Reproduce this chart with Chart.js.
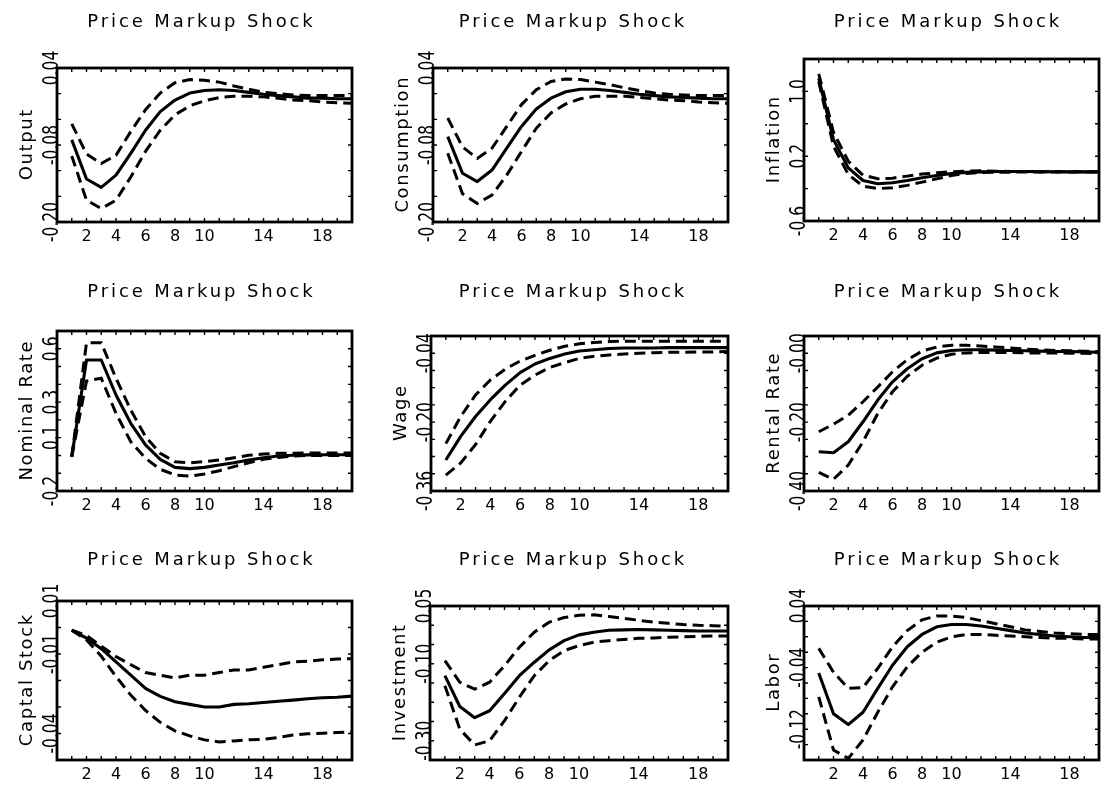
<!DOCTYPE html>
<html>
<head>
<meta charset="utf-8">
<title>Price Markup Shock</title>
<script src="https://cdn.jsdelivr.net/npm/chart.js@4/dist/chart.umd.min.js"></script>
<style>
  body { margin: 0; background: #fff; }
  #wrap { position: relative; width: 1102px; height: 787px; overflow: hidden; }
  #wrap canvas { position: absolute; }
</style>
</head>
<body>
<div id="wrap"></div>
<script>
// ---------------- data ----------------
var periods = [1, 2, 3, 4, 5, 6, 7, 8, 9, 10, 11, 12, 13, 14, 15, 16, 17, 18, 19, 20];
var xTickLabels = [2, 4, 6, 8, 10, 14, 18];
var shockTitle = "Price Markup Shock";

var outputMid = [-0.072, -0.133, -0.146, -0.127, -0.093, -0.057, -0.028, -0.010, 0.001, 0.005, 0.006, 0.005, 0.002, -0.001, -0.003, -0.005, -0.007, -0.007, -0.008, -0.008];
var outputHi  = [-0.047, -0.094, -0.109, -0.096, -0.059, -0.025, 0.001, 0.017, 0.022, 0.021, 0.018, 0.012, 0.007, 0.002, 0.000, -0.002, -0.003, -0.003, -0.003, -0.003];
var outputLo  = [-0.097, -0.166, -0.179, -0.166, -0.130, -0.090, -0.057, -0.033, -0.019, -0.011, -0.006, -0.004, -0.004, -0.005, -0.007, -0.010, -0.011, -0.013, -0.014, -0.015];
var outputTicks = [-0.20, -0.08, 0.04];
var outputTickText = ["-0.20", "-0.08", "0.04"];

var consMid = [-0.067, -0.124, -0.137, -0.119, -0.085, -0.051, -0.024, -0.007, 0.003, 0.007, 0.007, 0.005, 0.002, -0.001, -0.003, -0.005, -0.006, -0.007, -0.008, -0.008];
var consHi  = [-0.038, -0.083, -0.101, -0.085, -0.051, -0.017, 0.006, 0.019, 0.023, 0.022, 0.018, 0.014, 0.009, 0.005, 0.001, -0.001, -0.002, -0.003, -0.003, -0.003];
var consLo  = [-0.093, -0.156, -0.171, -0.158, -0.127, -0.090, -0.054, -0.030, -0.016, -0.008, -0.004, -0.004, -0.004, -0.006, -0.008, -0.010, -0.011, -0.013, -0.014, -0.015];
var consTicks = [-0.20, -0.08, 0.04];
var consTickText = ["-0.20", "-0.08", "0.04"];

var inflMid = [1.16, 0.405, 0.056, -0.100, -0.140, -0.128, -0.100, -0.067, -0.038, -0.013, 0.000, 0.007, 0.011, 0.011, 0.011, 0.009, 0.008, 0.007, 0.007, 0.007];
var inflHi  = [1.217, 0.495, 0.138, -0.034, -0.079, -0.071, -0.046, -0.021, -0.005, 0.007, 0.015, 0.019, 0.015, 0.012, 0.011, 0.009, 0.008, 0.007, 0.007, 0.007];
var inflLo  = [1.12, 0.323, -0.026, -0.170, -0.200, -0.190, -0.160, -0.120, -0.079, -0.038, -0.013, 0.000, 0.003, 0.003, 0.004, 0.004, 0.004, 0.004, 0.004, 0.004];
var inflTicks = [-0.6, 0.2, 1.0];
var inflTickText = ["-0.6", "0.2", "1.0"];

var rateMid = [-0.007, 0.537, 0.537, 0.340, 0.181, 0.059, -0.022, -0.067, -0.074, -0.067, -0.054, -0.041, -0.026, -0.013, -0.003, 0.001, 0.003, 0.004, 0.004, 0.004];
var rateHi  = [-0.007, 0.634, 0.634, 0.434, 0.256, 0.106, 0.012, -0.035, -0.041, -0.035, -0.026, -0.013, 0.001, 0.008, 0.012, 0.013, 0.014, 0.014, 0.014, 0.014];
var rateLo  = [-0.007, 0.419, 0.434, 0.237, 0.077, -0.016, -0.078, -0.110, -0.116, -0.104, -0.086, -0.063, -0.041, -0.022, -0.011, -0.003, 0.000, 0.000, 0.000, 0.000];
var rateTicks = [-0.2, 0.1, 0.3, 0.6];
var rateTickText = ["-0.2", "0.1", "0.3", "0.6"];

var wageMid = [-0.288, -0.233, -0.187, -0.148, -0.114, -0.085, -0.065, -0.052, -0.042, -0.035, -0.032, -0.029, -0.028, -0.028, -0.028, -0.027, -0.027, -0.027, -0.027, -0.027];
var wageHi  = [-0.250, -0.187, -0.137, -0.102, -0.077, -0.058, -0.045, -0.033, -0.024, -0.018, -0.015, -0.013, -0.012, -0.012, -0.012, -0.012, -0.012, -0.012, -0.012, -0.012];
var wageLo  = [-0.323, -0.295, -0.252, -0.198, -0.152, -0.114, -0.091, -0.073, -0.062, -0.052, -0.047, -0.044, -0.042, -0.040, -0.039, -0.038, -0.038, -0.037, -0.037, -0.036];
var wageTicks = [-0.36, -0.20, -0.04];
var wageTickText = ["-0.36", "-0.20", "-0.04"];

var rentMid = [-0.286, -0.289, -0.257, -0.199, -0.136, -0.083, -0.045, -0.016, 0.001, 0.008, 0.010, 0.010, 0.009, 0.008, 0.007, 0.006, 0.005, 0.005, 0.004, 0.003];
var rentHi  = [-0.228, -0.206, -0.180, -0.141, -0.098, -0.054, -0.019, 0.006, 0.018, 0.023, 0.023, 0.021, 0.018, 0.015, 0.012, 0.010, 0.008, 0.007, 0.006, 0.005];
var rentLo  = [-0.346, -0.366, -0.325, -0.257, -0.175, -0.112, -0.067, -0.035, -0.014, -0.003, 0.001, 0.002, 0.002, 0.002, 0.001, 0.001, 0.001, 0.000, 0.000, -0.001];
var rentTicks = [-0.40, -0.20, 0.00];
var rentTickText = ["-0.40", "-0.20", "-0.00"];

var capMid = [-0.001, -0.004, -0.008, -0.013, -0.018, -0.023, -0.026, -0.028, -0.029, -0.030, -0.030, -0.029, -0.0288, -0.0283, -0.0278, -0.0274, -0.0269, -0.0265, -0.0263, -0.0259];
var capHi  = [-0.001, -0.003, -0.007, -0.011, -0.014, -0.017, -0.018, -0.019, -0.018, -0.018, -0.017, -0.016, -0.016, -0.015, -0.014, -0.013, -0.0127, -0.0122, -0.0119, -0.0118];
var capLo  = [-0.001, -0.0047, -0.0108, -0.0185, -0.0255, -0.0313, -0.0358, -0.039, -0.0409, -0.0424, -0.0432, -0.0428, -0.0424, -0.0422, -0.0415, -0.0406, -0.0401, -0.0399, -0.0396, -0.0394];
var capTicks = [-0.04, -0.01, 0.01];
var capTickText = ["-0.04", "-0.01", "0.01"];

var invMid = [-0.131, -0.211, -0.240, -0.222, -0.177, -0.131, -0.096, -0.064, -0.040, -0.025, -0.018, -0.013, -0.012, -0.011, -0.012, -0.013, -0.014, -0.015, -0.015, -0.015];
var invHi  = [-0.092, -0.148, -0.166, -0.148, -0.105, -0.057, -0.018, 0.008, 0.020, 0.026, 0.027, 0.023, 0.018, 0.013, 0.008, 0.005, 0.002, 0.000, -0.001, -0.003];
var invLo  = [-0.157, -0.270, -0.311, -0.300, -0.248, -0.187, -0.131, -0.092, -0.066, -0.053, -0.044, -0.040, -0.037, -0.034, -0.033, -0.031, -0.030, -0.029, -0.028, -0.028];
var invTicks = [-0.30, -0.10, 0.05];
var invTickText = ["-0.30", "-0.10", "0.05"];

var laborMid = [-0.047, -0.100, -0.114, -0.098, -0.067, -0.037, -0.013, 0.003, 0.013, 0.016, 0.016, 0.014, 0.011, 0.008, 0.005, 0.003, 0.001, 0.000, -0.001, -0.001];
var laborHi  = [-0.015, -0.046, -0.067, -0.066, -0.041, -0.013, 0.008, 0.022, 0.027, 0.027, 0.025, 0.021, 0.017, 0.013, 0.009, 0.007, 0.005, 0.004, 0.003, 0.003];
var laborLo  = [-0.078, -0.147, -0.158, -0.134, -0.098, -0.065, -0.039, -0.020, -0.007, 0.000, 0.003, 0.003, 0.002, 0.001, 0.000, -0.001, -0.002, -0.002, -0.003, -0.003];
var laborTicks = [-0.12, -0.04, 0.04];
var laborTickText = ["-0.12", "-0.04", "0.04"];

// ---------------- layout ----------------
// cell = canvas [x, y, w, h], box = plot frame [left, top, right, bottom]
var panels = [
  { name: "Output", mid: outputMid, hi: outputHi, lo: outputLo, min: -0.20, max: 0.04, step: 0.04, ticks: outputTicks, text: outputTickText,
    cell: [0, 0, 367, 265], box: [57, 68, 352, 222], titleX: 200, titleY: 27 },
  { name: "Consumption", mid: consMid, hi: consHi, lo: consLo, min: -0.20, max: 0.04, step: 0.04, ticks: consTicks, text: consTickText,
    cell: [367, 0, 367, 265], box: [433, 68, 728, 222], titleX: 571.5, titleY: 27 },
  { name: "Inflation", mid: inflMid, hi: inflHi, lo: inflLo, min: -0.6, max: 1.4, step: 0.4, ticks: inflTicks, text: inflTickText,
    cell: [734, 0, 368, 265], box: [804, 59, 1099, 221], titleX: 946.5, titleY: 27 },
  { name: "Nominal Rate", mid: rateMid, hi: rateHi, lo: rateLo, min: -0.2, max: 0.7, step: 0.1, ticks: rateTicks, text: rateTickText,
    cell: [0, 265, 367, 270], box: [57, 331, 352, 491], titleX: 200, titleY: 297 },
  { name: "Wage", mid: wageMid, hi: wageHi, lo: wageLo, min: -0.36, max: 0.0, step: 0.04, ticks: wageTicks, text: wageTickText,
    cell: [367, 265, 367, 270], box: [431, 336, 728, 491], titleX: 571.5, titleY: 297 },
  { name: "Rental Rate", mid: rentMid, hi: rentHi, lo: rentLo, min: -0.40, max: 0.05, step: 0.05, ticks: rentTicks, text: rentTickText,
    cell: [734, 265, 368, 270], box: [804, 336, 1099, 491], titleX: 946.5, titleY: 297 },
  { name: "Captal Stock", mid: capMid, hi: capHi, lo: capLo, min: -0.05, max: 0.01, step: 0.01, ticks: capTicks, text: capTickText,
    cell: [0, 535, 367, 252], box: [57, 601, 352, 760], titleX: 200, titleY: 565 },
  { name: "Investment", mid: invMid, hi: invHi, lo: invLo, min: -0.35, max: 0.05, step: 0.05, ticks: invTicks, text: invTickText,
    cell: [367, 535, 367, 252], box: [430, 606, 728, 760], titleX: 571.5, titleY: 565 },
  { name: "Labor", mid: laborMid, hi: laborHi, lo: laborLo, min: -0.16, max: 0.04, step: 0.02, ticks: laborTicks, text: laborTickText,
    cell: [734, 535, 368, 252], box: [804, 606, 1099, 760], titleX: 946.5, titleY: 565 }
];

var FONT = "'DejaVu Sans', Arial, sans-serif";
var XAXIS_H = 24;
var TICK_LEN = 4;

panels.forEach(function(p) {
  drawPanel(p);
});

//funzione per il riquadro, le tacche interne e le scritte ruotate
function framePlugin(p) {
  return {
    id: "frame",
    beforeDraw: function(chart) {
      chart.ctx.letterSpacing = "0px";
    },
    afterDraw: function(chart) {
      var ctx = chart.ctx;
      var area = chart.chartArea;
      var xs = chart.scales.x;
      var ys = chart.scales.y;
      var eps = 1e-9;

      ctx.save();
      ctx.strokeStyle = "#000";
      ctx.fillStyle = "#000";

      // tacche interne
      ctx.lineWidth = 1.4;
      ctx.beginPath();
      xs.ticks.forEach(function(t) {
        if (t.value <= xs.min + eps || t.value >= xs.max - eps) return;
        var px = xs.getPixelForValue(t.value);
        ctx.moveTo(px, area.top);
        ctx.lineTo(px, area.top + TICK_LEN);
        ctx.moveTo(px, area.bottom);
        ctx.lineTo(px, area.bottom - TICK_LEN);
      });
      ys.ticks.forEach(function(t) {
        if (t.value <= ys.min + eps || t.value >= ys.max - eps) return;
        var py = ys.getPixelForValue(t.value);
        ctx.moveTo(area.left, py);
        ctx.lineTo(area.left + TICK_LEN, py);
        ctx.moveTo(area.right, py);
        ctx.lineTo(area.right - TICK_LEN, py);
      });
      ctx.stroke();

      // riquadro
      ctx.lineWidth = 2.8;
      ctx.strokeRect(area.left, area.top, area.right - area.left, area.bottom - area.top);

      // etichette asse y (ruotate)
      ctx.textAlign = "center";
      ctx.textBaseline = "alphabetic";
      ctx.letterSpacing = "0px";
      ctx.font = "21px " + FONT;
      p.ticks.forEach(function(v, i) {
        var py = ys.getPixelForValue(v);
        ctx.save();
        ctx.translate(area.left + 1, py);
        ctx.rotate(-Math.PI / 2);
        ctx.scale(0.74, 1);
        ctx.fillText(p.text[i], 0, 0);
        ctx.restore();
      });

      // nome della variabile
      ctx.save();
      ctx.font = "18px " + FONT;
      ctx.letterSpacing = "1.6px";
      ctx.translate(area.left - 25, (area.top + area.bottom) / 2);
      ctx.rotate(-Math.PI / 2);
      ctx.fillText(p.name, 0.8, 0);
      ctx.restore();

      // titolo
      ctx.font = "18px " + FONT;
      ctx.letterSpacing = "2.9px";
      ctx.fillText(shockTitle, p.titleX - p.cell[0] + 1.5, p.titleY - p.cell[1]);

      ctx.restore();
    }
  };
}

//funzione per stampare un pannello
function drawPanel(p) {
  var cell = p.cell;
  var box = p.box;

  var canvas = document.createElement("canvas");
  canvas.width = cell[2];
  canvas.height = cell[3];
  canvas.style.left = cell[0] + "px";
  canvas.style.top = cell[1] + "px";
  canvas.style.width = cell[2] + "px";
  canvas.style.height = cell[3] + "px";
  document.getElementById("wrap").appendChild(canvas);

  var solid = {
    data: p.mid,
    borderColor: "#000",
    borderWidth: 3.1,
    pointRadius: 0,
    fill: false,
    tension: 0,
    borderJoinStyle: "round"
  };
  var upper = {
    data: p.hi,
    borderColor: "#000",
    borderWidth: 3,
    borderDash: [11, 6],
    pointRadius: 0,
    fill: false,
    tension: 0
  };
  var lower = {
    data: p.lo,
    borderColor: "#000",
    borderWidth: 3,
    borderDash: [11, 6],
    pointRadius: 0,
    fill: false,
    tension: 0
  };

  new Chart(canvas, {
    type: "line",
    data: {
      labels: periods,
      datasets: [upper, solid, lower]
    },
    options: {
      responsive: false,
      animation: false,
      devicePixelRatio: 1,
      layout: {
        padding: {
          left: box[0] - cell[0],
          top: box[1] - cell[1],
          right: cell[0] + cell[2] - box[2],
          bottom: cell[1] + cell[3] - box[3] - XAXIS_H
        }
      },
      plugins: {
        legend: { display: false },
        tooltip: { enabled: false }
      },
      scales: {
        x: {
          type: "linear",
          min: 0,
          max: 20,
          grid: { display: false },
          border: { display: false },
          afterFit: function(scale) { scale.height = XAXIS_H; },
          ticks: {
            stepSize: 1,
            autoSkip: false,
            maxRotation: 0,
            padding: -3,
            color: "#000",
            font: { family: FONT, size: 16 },
            callback: function(v) {
              return xTickLabels.indexOf(v) >= 0 ? String(v) : "";
            }
          }
        },
        y: {
          type: "linear",
          min: p.min,
          max: p.max,
          grid: { display: false },
          border: { display: false },
          afterFit: function(scale) { scale.width = 0; },
          ticks: { display: false, stepSize: p.step }
        }
      }
    },
    plugins: [framePlugin(p)]
  });
}
</script>
</body>
</html>
